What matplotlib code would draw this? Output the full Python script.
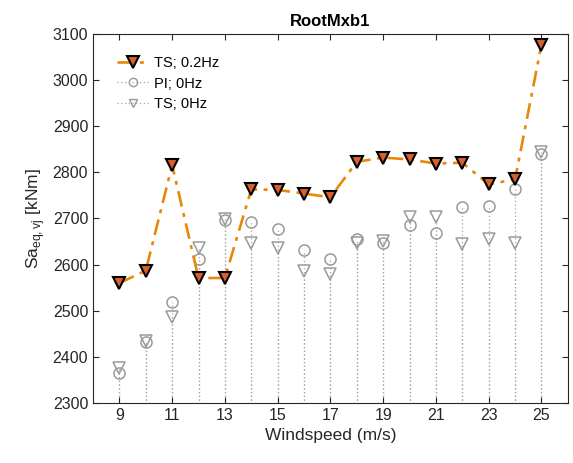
import numpy as np
import matplotlib.pyplot as plt

plt.rcParams['font.family'] = ['Liberation Sans', 'DejaVu Sans']

# 风速
wind = [9, 10, 11, 12, 13, 14, 15, 16, 17, 18, 19, 20, 21, 22, 23, 24, 25]
# TS; 0.2Hz
ts_02 = [2560, 2587, 2816, 2571, 2571, 2763, 2762, 2754, 2746, 2823,
         2832, 2828, 2819, 2821, 2774, 2785, 3077]
# PI; 0Hz
pi_0 = [2366, 2433, 2520, 2612, 2696, 2693, 2677, 2631, 2612, 2655,
        2647, 2686, 2668, 2725, 2727, 2764, 2840]
# TS; 0Hz
ts_0 = [2376, 2435, 2487, 2636, 2699, 2647, 2635, 2587, 2580, 2647,
        2652, 2704, 2703, 2645, 2655, 2646, 2844]

fig = plt.figure(figsize=(5.73, 4.63), dpi=100)
ax = fig.add_axes([0.1623, 0.1296, 0.8287, 0.797])

gray = '#9a9a9a'
orange = '#E8870A'
dashdot = (0, (6, 2.5, 1.5, 2.5))
# 茎图（点线）
ax.vlines(wind, 2000, pi_0, colors='#a5a5a5', linestyles=(0, (1, 2)), linewidth=0.9, zorder=1)
ax.vlines(wind, 2000, ts_0, colors='#a5a5a5', linestyles=(0, (1, 2)), linewidth=0.9, zorder=1)

ax.plot(wind, ts_02, color=orange, linestyle=dashdot, linewidth=1.9,
        marker='v', markersize=9, markerfacecolor='#D9602E', markeredgecolor='black',
        markeredgewidth=1.5, zorder=3)
ax.plot(wind, pi_0, linestyle='none', marker='o', markersize=8, markerfacecolor='none',
        markeredgecolor=gray, markeredgewidth=1.1, zorder=2)
ax.plot(wind, ts_0, linestyle='none', marker='v', markersize=8, markerfacecolor='none',
        markeredgecolor=gray, markeredgewidth=1.1, zorder=2)

# 图例用的代理句柄
h1, = ax.plot([], [], color=orange, linestyle=dashdot, linewidth=1.9,
              marker='v', markersize=9, markerfacecolor='#D9602E', markeredgecolor='black',
              markeredgewidth=1.5)
h2, = ax.plot([], [], color='#a5a5a5', linestyle=(0, (1, 2)), linewidth=0.9, marker='o',
              markersize=6, markerfacecolor='none', markeredgecolor=gray)
h3, = ax.plot([], [], color='#a5a5a5', linestyle=(0, (1, 2)), linewidth=0.9, marker='v',
              markersize=6, markerfacecolor='none', markeredgecolor=gray)
ax.legend([h1, h2, h3], ['TS; 0.2Hz', 'PI; 0Hz', 'TS; 0Hz'], loc='upper left',
          frameon=False, fontsize=10.5, handlelength=2.2, handletextpad=0.3,
          borderaxespad=0.6, labelspacing=0.45, bbox_to_anchor=(0.02, 0.98))

ax.set_xlim(8, 26)
ax.set_ylim(2300, 3100)
ax.set_xticks(range(9, 26, 2))
ax.set_yticks(range(2300, 3101, 100))
ax.tick_params(direction='in', top=True, right=True, labelsize=11.5, length=4,
               color='#262626', labelcolor='#262626')
for s in ax.spines.values():
    s.set_color('#262626')
    s.set_linewidth(0.8)

ax.set_title('RootMxb1', fontsize=12, fontweight='bold', pad=6)
ax.set_xlabel('Windspeed (m/s)', fontsize=12.5, color='#262626')
ax.set_ylabel(r'Sa$_{\mathregular{eq,vj}}$ [kNm]', fontsize=12.5, color='#262626')

fig.savefig('out.png', dpi=100)
